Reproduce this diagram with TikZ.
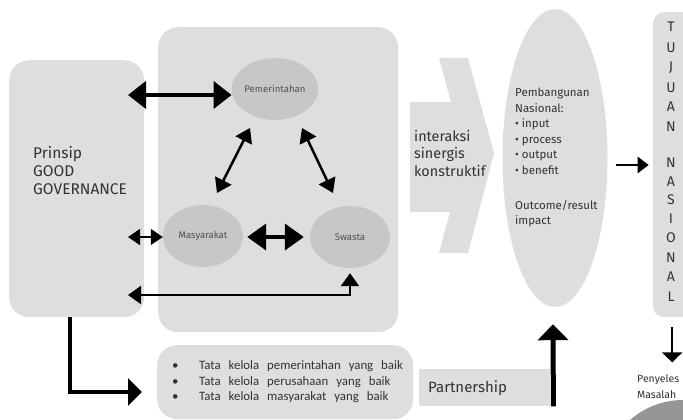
\documentclass[tikz,border=0pt]{standalone}
\usepackage{fontspec}
\setmainfont{Fira Sans}
\newfontfamily\listfont{Carlito}
\usetikzlibrary{arrows.meta,shapes.geometric,calc}

\definecolor{panel}{RGB}{221,222,223}
\definecolor{actorfill}{RGB}{199,199,200}
\definecolor{disc}{RGB}{150,150,150}
\definecolor{ink}{RGB}{50,50,50}
\definecolor{softink}{RGB}{80,80,80}

\newcommand\widewords{\spaceskip=8pt plus 1pt\relax}

\begin{document}
\begin{tikzpicture}[x=1pt,y=-1pt,
  panelbox/.style={fill=panel, rounded corners=20pt, inner sep=0pt, anchor=north west},
  actor/.style={ellipse, fill=actorfill, minimum width=80pt, minimum height=62pt,
    inner sep=0pt, text=softink, font=\fontsize{9.6}{11}\selectfont},
  label/.style={text=ink, inner sep=0pt, align=left},
  heavytwo/.style={line width=4pt, arrows={Triangle[length=18pt,width=27pt]-Triangle[length=18pt,width=27pt]}},
  diagtwo/.style={line width=2.5pt, arrows={Triangle[length=14pt,width=18pt]-Triangle[length=14pt,width=18pt]}},
  thintwo/.style={line width=1.2pt, arrows={Triangle[length=12pt,width=16pt]-Triangle[length=12pt,width=16pt]}},
  elbowtwo/.style={line width=2.2pt, arrows={Triangle[length=13pt,width=18pt]-Triangle[length=13pt,width=18pt]}},
  heavyone/.style={line width=4pt, arrows={-Triangle[length=14pt,width=27pt]}},
  pushup/.style={line width=5pt, arrows={-Triangle[length=16pt,width=30pt]}},
  toright/.style={line width=2.5pt, arrows={-Triangle[length=11pt,width=16pt]}},
  todown/.style={line width=1.8pt, arrows={-Triangle[length=10pt,width=20pt]}}
]
\useasboundingbox (0,0) rectangle (683,420);

% partly visible disc in the lower right corner
\begin{scope}
  \clip (0,0) rectangle (683,420);
  \fill[disc] (683,480) circle (80);
\end{scope}

% principle panel and the three-actor panel
\node[panelbox, minimum width=135pt, minimum height=257pt] (gg) at (9,60) {};
\node[label, anchor=west, font=\fontsize{15.5}{18}\selectfont] (ggtext) at (33,171)
  {Prinsip\\GOOD\\GOVERNANCE};
\node[panelbox, minimum width=240pt, minimum height=305pt] (actors) at (158,27) {};

% actors
\node[actor] (pem) at (275,89) {Pemerintahan};
\node[actor] (masy) at (203,236) {Masyarakat};
\node[actor] (sw) at (350,237) {Swasta};

% interaction chevron
\fill[panel] (410,102) -- (451,102) -- (439,58) -- (468,58) -- (494,153)
  -- (468,253) -- (439,253) -- (450,212) -- (410,212) -- cycle;
\node[label, anchor=west, font=\fontsize{14.4}{17.5}\selectfont] (inter) at (414,153)
  {interaksi\\sinergis\\konstruktif};

% national development
\node[ellipse, fill=panel, minimum width=105pt, minimum height=298pt, inner sep=0pt] (pn) at (555,158) {};
\node[label, anchor=north west, font=\fontsize{11.5}{15.5}\selectfont] (pntext) at (515,88)
  {Pembangunan\\Nasional:\\• input\\• process\\• output\\• benefit\\[19.5pt]Outcome/result\\impact};

% national goal column
\node[panelbox, rounded corners=11pt, minimum width=50pt, minimum height=305pt] (tj) at (653,12) {};
\foreach \l/\yy [count=\i] in {T/27,U/47.5,J/67.5,U/87.5,A/107,N/127,N/163,A/182,S/200,I/219,O/238,N/257.5,A/277,L/297}
  \node[text=ink, inner sep=0pt, font=\fontsize{14}{14}\selectfont] (tjl\i) at (671,\yy) {\l};

% outcome below the goal
\node[label, anchor=west, font=\fontsize{10.5}{16}\selectfont] (solve) at (637,387)
  {Penyeles\\Masalah};

% good governance domains
\node[panelbox, minimum width=256pt, minimum height=74pt] (tk) at (157,345) {};
\node[label, anchor=west, font=\listfont\fontsize{12.8}{15.5}\selectfont\widewords] (tktext) at (172,382)
  {\makebox[27pt][l]{•}Tata kelola pemerintahan yang baik\\
   \makebox[27pt][l]{•}Tata kelola perusahaan yang baik\\
   \makebox[27pt][l]{•}Tata kelola masyarakat yang baik};

% partnership
\node[fill=panel, anchor=north west, minimum width=131pt, minimum height=37pt, inner sep=0pt] (ps) at (419,369) {};
\node[label, anchor=west, font=\fontsize{15}{16}\selectfont] (pstext) at (428,388) {Partnership};

% connectors
\coordinate (ggA) at (128,95);
\coordinate (ggM) at (128,237);
\coordinate (ggB) at (128,295);
\coordinate (ggC) at (70,317);
\coordinate (tkA) at (142,392);

\draw[heavytwo] (ggA) -- (ggA -| pem.west);
\draw[diagtwo] ($(pem)+(-25,39)$) -- ($(masy)+(14,-43)$);
\draw[diagtwo] ($(pem)+(27,39)$) -- ($(sw)+(-17,-44)$);
\draw[thintwo] (ggM) -- (ggM -| masy.west);
\draw[line width=4pt, arrows={Triangle[length=19pt,width=26pt]-Triangle[length=19pt,width=26pt]}]
  ($(masy.east)+(4,1)$) -- ($(sw.west)+(-6,0)$);
\draw[elbowtwo] (ggB) -- (ggB -| sw.south) -- ($(sw.south)+(0,5)$);
\draw[heavyone] (ggC) -- (ggC |- tkA) -- (tkA);
\draw[pushup] ($(ps.south east)+(3,0)$) -- ($(pn.south)+(-2,17)$);
\draw[toright] ($(pn.east)+(8,7)$) -- ($(pn.east)+(41,7)$);
\draw[todown] ($(tj.south)+(-6,10)$) -- ($(tj.south)+(-6,45)$);
\end{tikzpicture}
\end{document}
